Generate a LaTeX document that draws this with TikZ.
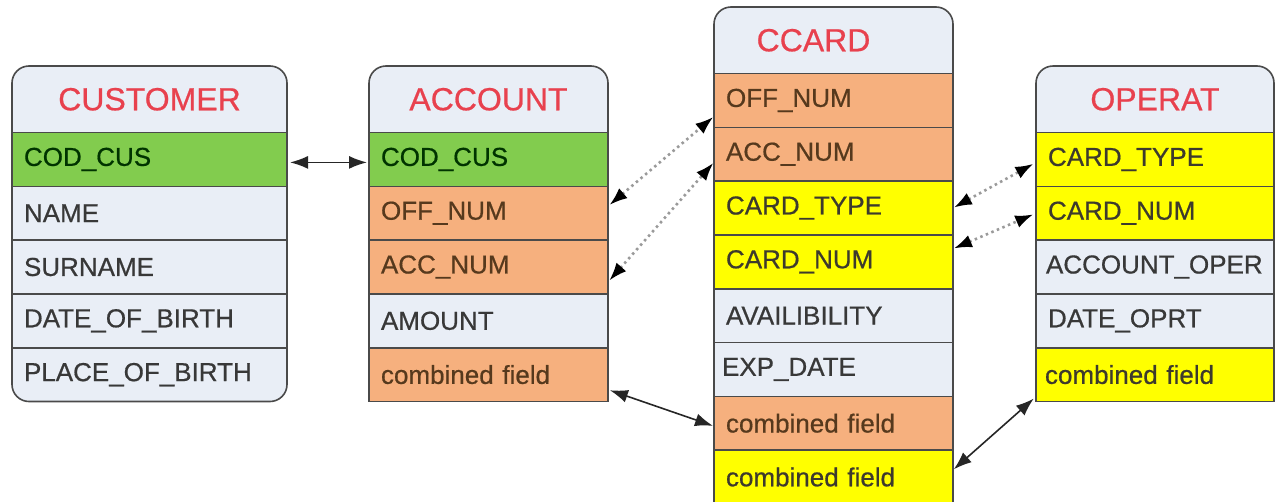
\documentclass[tikz,border=0pt]{standalone}
\usepackage{fontspec}
\setmainfont{Liberation Sans}
\newfontface\fieldface{Liberation Sans}[FakeBold=0.6]
\usetikzlibrary{positioning,backgrounds,arrows.meta}

\definecolor{rowlight}{HTML}{E9EEF6}
\definecolor{rowgreen}{HTML}{82CC4E}
\definecolor{roworange}{HTML}{F6B07E}
\definecolor{rowyellow}{HTML}{FFFF00}
\definecolor{framegray}{HTML}{4A4A4A}
\definecolor{titlered}{HTML}{E8414E}
\definecolor{linkgray}{HTML}{9A9A9A}

\begin{document}
\begin{tikzpicture}[x=1pt,y=-1pt,
				field/.style={draw=framegray, line width=1.6pt, fill=rowlight, text=black!78,
					minimum height=53.8pt, text width=#1, inner xsep=12pt, inner ysep=0pt,
					outer sep=0pt, align=left, anchor=north west,
					font=\fieldface\fontsize{26}{30}\selectfont},
				field/.default=215pt,
				green/.style={fill=rowgreen, text=green!20!black},
				orange/.style={fill=roworange, text=brown!45!black},
				yellow/.style={fill=rowyellow, text=olive!25!black},
				head/.style={minimum height=66.5pt, minimum width=#1, inner sep=0pt, outer sep=0pt,
					anchor=north west, text=titlered, font=\fieldface\fontsize{32}{36}\selectfont},
				head/.default=239pt,
				frame/.style={draw=framegray, line width=1.6pt, fill=rowlight, rounded corners=17pt},
				solidlink/.style={>={Latex[length=18pt,width=13pt]}, <->, line width=1.6pt, black!85},
				dotlink/.style={>={Latex[length=18pt,width=13pt,color=black]}, <->,
					line width=2.6pt, linkgray, dash pattern=on 2.5pt off 3.5pt}]
				\useasboundingbox (0,0) rectangle (1282,501);

				% CUSTOMER
				\node[head=275pt] (cus) at (12,66) {\raisebox{-3pt}{CUSTOMER}};
				\node[field=251pt, green, below=0pt of cus.south west, anchor=north west] (cus-cod) {COD\_CUS};
				\node[field=251pt, below=0pt of cus-cod.south west, anchor=north west] (cus-name) {NAME};
				\node[field=251pt, below=0pt of cus-name.south west, anchor=north west] (cus-sur) {SURNAME};
				\node[field=251pt, below=0pt of cus-sur.south west, anchor=north west] (cus-date) {DATE\_OF\_BIRTH};
				\node[field=251pt, draw=none, fill=none, below=0pt of cus-date.south west, anchor=north west] (cus-place) {PLACE\_OF\_BIRTH};

				% ACCOUNT
				\node[head] (acc) at (369,66) {\raisebox{-3pt}{ACCOUNT}};
				\node[field, green, below=0pt of acc.south west, anchor=north west] (acc-cod) {COD\_CUS};
				\node[field, orange, below=0pt of acc-cod.south west, anchor=north west] (acc-off) {OFF\_NUM};
				\node[field, orange, below=0pt of acc-off.south west, anchor=north west] (acc-num) {ACC\_NUM};
				\node[field, below=0pt of acc-num.south west, anchor=north west] (acc-amount) {AMOUNT};
				\node[field, orange, below=0pt of acc-amount.south west, anchor=north west] (acc-comb) {combined field};

				% CCARD
				\node[head] (card) at (714,7) {\hspace*{-40pt}\raisebox{-8pt}{CCARD}};
				\node[field, orange, below=0pt of card.south west, anchor=north west] (card-off) {OFF\_NUM};
				\node[field, orange, below=0pt of card-off.south west, anchor=north west] (card-acc) {ACC\_NUM};
				\node[field, yellow, below=0pt of card-acc.south west, anchor=north west] (card-type) {CARD\_TYPE};
				\node[field, yellow, below=0pt of card-type.south west, anchor=north west] (card-num) {CARD\_NUM};
				\node[field, below=0pt of card-num.south west, anchor=north west] (card-avail) {AVAILIBILITY};
				\node[field=223pt, inner xsep=8pt, below=0pt of card-avail.south west, anchor=north west] (card-exp) {EXP\_DATE\\[6pt]};
				\node[field, orange, below=0pt of card-exp.south west, anchor=north west] (card-comb) {combined field};
				\node[field, yellow, below=0pt of card-comb.south west, anchor=north west] (card-comb2) {combined field};

				% OPERAT
				\node[head=238pt] (op) at (1036,66) {\raisebox{-3pt}{OPERAT}};
				\node[field=214pt, yellow, below=0pt of op.south west, anchor=north west] (op-type) {CARD\_TYPE};
				\node[field=214pt, yellow, below=0pt of op-type.south west, anchor=north west] (op-num) {CARD\_NUM};
				\node[field=218pt, inner xsep=10pt, below=0pt of op-num.south west, anchor=north west] (op-acc) {ACCOUNT\_OPER};
				\node[field=214pt, below=0pt of op-acc.south west, anchor=north west] (op-date) {DATE\_OPRT};
				\node[field=220pt, yellow, inner xsep=9pt, below=0pt of op-date.south west, anchor=north west] (op-comb) {combined field};

				% rounded frames
				\begin{scope}[on background layer]
					\filldraw[frame] (cus.south west) -- (cus.north west) -- (cus.north east) -- (cus.south east);
					\filldraw[frame] (acc.south west) -- (acc.north west) -- (acc.north east) -- (acc.south east);
					\filldraw[frame] (card.south west) -- (card.north west) -- (card.north east) -- (card.south east);
					\filldraw[frame] (op.south west) -- (op.north west) -- (op.north east) -- (op.south east);
					\filldraw[frame] (cus-place.north west) -- (cus-place.south west) -- (cus-place.south east) -- (cus-place.north east);
				\end{scope}

				% links
				\draw[solidlink, shorten <=3pt, shorten >=2pt] ([yshift=-3pt]cus-cod.east) -- ([yshift=-3pt]acc-cod.west);
				\draw[dotlink, shorten <=2pt, shorten >=1pt] ([yshift=7pt]acc-off.east) -- ([yshift=-16pt]card-off.west);
				\draw[dotlink, shorten <=2pt, shorten >=1pt] ([yshift=-15pt]acc-num.east) -- ([yshift=-8pt]card-acc.west);
				\draw[dotlink, shorten <=1pt, shorten >=3pt] (card-type.east) -- ([yshift=-3pt]op-type.west);
				\draw[dotlink, shorten <=1pt, shorten >=3pt] ([yshift=13pt]card-num.east) -- (op-num.west);
				\draw[solidlink, shorten <=2pt, shorten >=1pt] ([yshift=-15pt]acc-comb.east) -- ([yshift=-3pt]card-comb.west);
				\draw[solidlink, shorten <=1pt, shorten >=3pt] ([yshift=7pt]card-comb2.east) -- ([yshift=-22pt]op-comb.west);
			\end{tikzpicture}
\end{document}
